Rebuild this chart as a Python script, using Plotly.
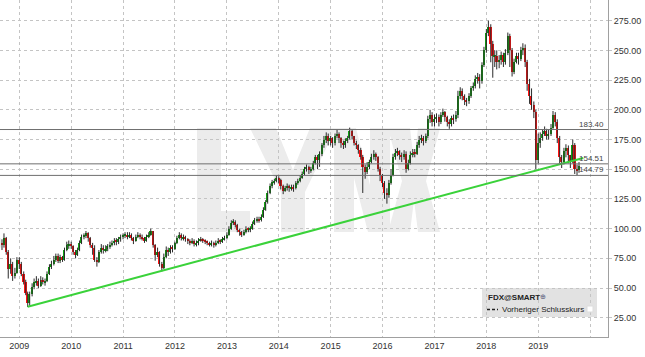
import plotly.graph_objects as go
import pandas as pd

# ---------------- data (semi-monthly candles) ----------------
first_open = 86
close_2008 = [88, 86, 92, 80, 66, 70, 60, 63, 74]
high_2008 = [92, 91, 96, 93, 82, 75, 72, 67, 76]
low_2008 = [84, 82, 84, 78, 58, 62, 56, 58, 62]

close_2009 = [70, 62, 55, 46, 37, 45, 51, 55, 56, 52, 57, 55, 56, 62, 68, 70, 74, 77, 73, 76, 74, 82, 86, 87]
high_2009 = [76, 72, 64, 57, 47, 47, 54, 58, 60, 58, 60, 59, 58, 64, 70, 73, 77, 79, 79, 78, 77, 84, 89, 90]
low_2009 = [66, 60, 53, 44, 34, 35, 43, 49, 52, 50, 51, 53, 52, 55, 61, 66, 69, 72, 71, 71, 72, 73, 81, 83]

close_2010 = [85, 80, 78, 82, 88, 93, 94, 96, 92, 86, 84, 74, 72, 80, 84, 82, 83, 85, 86, 88, 90, 89, 91, 93]
high_2010 = [89, 86, 82, 84, 90, 95, 96, 98, 97, 93, 88, 86, 76, 82, 87, 86, 86, 87, 89, 90, 92, 92, 93, 95]
low_2010 = [83, 78, 75, 77, 81, 87, 91, 92, 89, 84, 78, 72, 68, 71, 79, 79, 80, 81, 83, 85, 86, 86, 87, 89]

close_2011 = [94, 95, 93, 95, 92, 90, 93, 95, 93, 92, 90, 93, 95, 98, 86, 78, 80, 70, 67, 76, 82, 80, 84, 83]
high_2011 = [96, 97, 97, 97, 96, 93, 95, 97, 96, 95, 93, 95, 97, 100, 98, 87, 84, 81, 72, 79, 85, 84, 86, 86]
low_2011 = [91, 92, 91, 92, 90, 87, 89, 92, 91, 90, 88, 89, 92, 94, 84, 73, 76, 68, 64, 66, 75, 77, 79, 80]

close_2012 = [88, 92, 95, 92, 93, 91, 90, 88, 90, 87, 88, 90, 91, 90, 89, 88, 87, 88, 86, 88, 90, 89, 91, 92]
high_2012 = [89, 94, 97, 96, 95, 94, 92, 91, 92, 91, 90, 92, 93, 92, 91, 90, 89, 90, 89, 90, 92, 91, 93, 94]
low_2012 = [82, 87, 91, 90, 90, 89, 87, 86, 87, 85, 85, 86, 89, 88, 87, 86, 85, 85, 84, 85, 87, 87, 88, 90]

close_2013 = [95, 100, 105, 106, 103, 99, 97, 95, 97, 100, 99, 100, 104, 107, 108, 107, 110, 116, 122, 130, 136, 139, 140, 143]
high_2013 = [97, 102, 107, 108, 107, 104, 100, 98, 99, 102, 101, 102, 106, 109, 110, 110, 112, 118, 124, 132, 138, 141, 142, 145]
low_2013 = [91, 94, 99, 103, 101, 97, 94, 93, 94, 96, 97, 97, 99, 103, 105, 105, 106, 109, 115, 121, 129, 134, 137, 139]

close_2014 = [141, 136, 132, 134, 136, 134, 135, 134, 138, 140, 143, 146, 150, 152, 149, 150, 155, 160, 158, 163, 170, 175, 178, 174]
high_2014 = [144, 142, 137, 136, 138, 137, 137, 137, 140, 142, 145, 148, 152, 154, 153, 152, 157, 162, 162, 165, 172, 178, 181, 180]
low_2014 = [138, 133, 129, 131, 132, 131, 132, 131, 133, 137, 139, 142, 145, 148, 146, 147, 149, 154, 150, 152, 161, 168, 172, 170]

close_2015 = [176, 172, 178, 180, 176, 172, 170, 174, 176, 182, 178, 172, 170, 166, 160, 152, 148, 152, 156, 160, 163, 160, 150, 145]
high_2015 = [178, 177, 180, 183, 181, 177, 174, 176, 178, 185, 183, 178, 174, 171, 168, 162, 154, 156, 158, 163, 166, 164, 161, 152]
low_2015 = [170, 168, 170, 176, 172, 168, 167, 168, 172, 175, 175, 170, 167, 163, 158, 130, 142, 146, 150, 155, 158, 157, 148, 140]

close_2016 = [138, 130, 128, 138, 145, 160, 164, 165, 162, 160, 163, 150, 155, 162, 164, 163, 170, 175, 176, 174, 178, 192, 196, 190]
high_2016 = [146, 140, 134, 141, 150, 163, 167, 168, 166, 164, 166, 165, 158, 165, 167, 167, 173, 178, 179, 178, 180, 195, 200, 198]
low_2016 = [135, 125, 121, 126, 137, 144, 158, 161, 158, 156, 158, 147, 149, 154, 160, 160, 162, 168, 172, 170, 172, 176, 189, 186]

close_2017 = [192, 194, 190, 196, 198, 194, 190, 188, 193, 192, 196, 212, 216, 212, 208, 207, 212, 218, 220, 226, 228, 224, 238, 250]
high_2017 = [196, 197, 196, 198, 201, 199, 195, 192, 195, 196, 199, 216, 219, 218, 213, 210, 214, 220, 223, 229, 231, 230, 240, 253]
low_2017 = [186, 189, 186, 188, 194, 190, 186, 184, 186, 188, 190, 193, 209, 208, 204, 203, 205, 210, 216, 218, 222, 218, 222, 236]

close_2018 = [265, 270, 255, 245, 245, 240, 242, 246, 240, 248, 262, 250, 232, 240, 245, 243, 250, 252, 240, 222, 212, 204, 198, 158]
high_2018 = [268, 275, 272, 258, 250, 250, 246, 249, 248, 251, 265, 264, 252, 243, 248, 248, 253, 256, 255, 242, 226, 218, 207, 200]
low_2018 = [248, 262, 240, 227, 236, 234, 235, 238, 236, 238, 246, 236, 228, 230, 239, 238, 241, 246, 236, 216, 205, 200, 193, 150]

close_2019 = [172, 176, 180, 182, 178, 180, 185, 196, 190, 176, 160, 156, 165, 168, 162, 156, 170, 150, 149, 153]
high_2019 = [180, 181, 183, 186, 184, 183, 188, 199, 198, 192, 178, 162, 168, 171, 170, 160, 175, 172, 154, 156]
low_2019 = [155, 168, 174, 178, 175, 175, 178, 184, 186, 172, 155, 151, 154, 160, 155, 151, 155, 146, 145, 147]

levels = [183.40, 154.51, 144.79]
level_labels = ["183.40", "154.51", "144.79"]
trend_dates = ["2009-03-01", "2019-11-14"]
trend_values = [34.3, 159.5]
year_ticks = [f"{y}-01-01" for y in range(2009, 2021)]
year_labels = [str(y) for y in range(2009, 2020)] + [""]
price_ticks = [25, 50, 75, 100, 125, 150, 175, 200, 225, 250, 275]

closes = (close_2008 + close_2009 + close_2010 + close_2011 + close_2012 + close_2013
          + close_2014 + close_2015 + close_2016 + close_2017 + close_2018 + close_2019)
highs = (high_2008 + high_2009 + high_2010 + high_2011 + high_2012 + high_2013
         + high_2014 + high_2015 + high_2016 + high_2017 + high_2018 + high_2019)
lows = (low_2008 + low_2009 + low_2010 + low_2011 + low_2012 + low_2013
        + low_2014 + low_2015 + low_2016 + low_2017 + low_2018 + low_2019)
opens = [first_open] + closes[:-1]
dates = pd.date_range("2008-08-15", periods=len(closes), freq="SMS")
highs = [max(h, o, c) for h, o, c in zip(highs, opens, closes)]
lows = [min(l, o, c) for l, o, c in zip(lows, opens, closes)]

# ---------------- geometry helpers (pixel -> paper) ----------------
PW, PH = 608.0, 337.0
def px(x):
    return x / PW
def py(y):
    return 1 - y / PH

fig = go.Figure()

# wicks
wx, wy = [], []
for d, h, l in zip(dates, highs, lows):
    wx += [d, d, None]
    wy += [l, h, None]
fig.add_trace(go.Scatter(x=wx, y=wy, mode="lines", line=dict(color="#2a2a2a", width=1),
                         hoverinfo="skip", showlegend=False))
# bodies
body_h = [max(abs(c - o), 0.7) for o, c in zip(opens, closes)]
body_b = [min(o, c) for o, c in zip(opens, closes)]
body_c = ["#12a012" if c >= o else "#ff1010" for o, c in zip(opens, closes)]
fig.add_trace(go.Bar(x=dates, y=body_h, base=body_b, marker=dict(color=body_c, line=dict(width=0)),
                     width=11 * 86400000, showlegend=False, hoverinfo="skip"))

# trend line
fig.add_trace(go.Scatter(x=trend_dates, y=trend_values, mode="lines",
                         line=dict(color="#3ad23a", width=2), showlegend=False, hoverinfo="skip"))

shapes = []
annotations = []
# horizontal levels
for v, t in zip(levels, level_labels):
    shapes.append(dict(type="line", xref="paper", yref="y", x0=0, x1=1, y0=v, y1=v,
                       line=dict(color="#6e6e6e", width=1), layer="above"))
    annotations.append(dict(xref="paper", yref="y", x=px(606), y=v, text=t, showarrow=False,
                            xanchor="right", yanchor="bottom", yshift=-1,
                            font=dict(family="Liberation Sans, Arial", size=8, color="#444")))

# LYNX watermark drawn as letter outlines
wm = "#ececec"
def poly(points):
    s = "M " + " L ".join(f"{px(x):.5f},{py(y):.5f}" for x, y in points) + " Z"
    return dict(type="path", xref="paper", yref="paper", path=s, fillcolor=wm,
                line=dict(width=0), layer="below")
T, B = 128, 232
shapes.append(poly([(197, T), (221, T), (221, 211), (250, 211), (250, B), (197, B)]))
shapes.append(poly([(250, T), (276, T), (293, 170), (310, T), (336, T), (305, 192), (305, B), (281, B), (281, 192)]))
shapes.append(poly([(334, B), (334, T), (356, T), (370, 185), (370, T), (390, T), (390, B), (368, B), (354, 178), (354, B)]))
shapes.append(poly([(388, T), (410, T), (414, 162), (418, T), (440, T), (426, 181), (440, B), (418, B), (414, 200), (410, B), (388, B), (402, 181)]))

# legend box
shapes.append(dict(type="rect", xref="paper", yref="paper", x0=px(482), x1=px(597), y0=py(317), y1=py(288),
                   fillcolor="#e2e2e2", line=dict(width=0), layer="below"))
shapes.append(dict(type="line", xref="paper", yref="paper", x0=px(487), x1=px(498), y0=py(309.5), y1=py(309.5),
                   line=dict(color="#222", width=1.3, dash="3px,2px"), layer="above"))
shapes.append(dict(type="rect", xref="paper", yref="paper", x0=px(587), x1=px(593), y0=py(312), y1=py(306),
                   fillcolor="#ffffff", line=dict(color="#dddddd", width=1), layer="above"))
annotations.append(dict(xref="paper", yref="paper", x=px(486), y=py(297), text="<b>FDX@SMART</b>",
                        showarrow=False, xanchor="left", yanchor="middle",
                        font=dict(family="Liberation Sans, Arial", size=8, color="#222")))
annotations.append(dict(xref="paper", yref="paper", x=px(538), y=py(297), text="⊕",
                        showarrow=False, xanchor="left", yanchor="middle",
                        font=dict(family="DejaVu Sans", size=7, color="#557")))
annotations.append(dict(xref="paper", yref="paper", x=px(500), y=py(309.5), text="Vorheriger Schlusskurs",
                        showarrow=False, xanchor="left", yanchor="middle",
                        font=dict(family="Liberation Sans, Arial", size=8, color="#222")))

fig.update_layout(
    width=645, height=357,
    margin=dict(l=0, r=37, t=0, b=20, pad=0),
    paper_bgcolor="white", plot_bgcolor="white",
    showlegend=False, bargap=0,
    shapes=shapes, annotations=annotations,
    font=dict(family="Liberation Sans, Arial", size=9, color="#333"),
)
fig.update_xaxes(
    type="date", range=["2008-08-18", "2020-05-06"],
    tickvals=year_ticks, ticktext=year_labels,
    showgrid=True, gridcolor="#c4c4c4", griddash="dot", gridwidth=1,
    showline=True, linecolor="#a0a0a0", mirror=True, linewidth=1,
    ticks="", tickfont=dict(size=9, color="#333"), zeroline=False,
)
fig.update_yaxes(
    range=[8.8, 292.4], side="right",
    tickvals=price_ticks, tickformat=".2f",
    showgrid=True, gridcolor="#c4c4c4", griddash="dot", gridwidth=1,
    showline=True, linecolor="#a0a0a0", mirror=True, linewidth=1,
    ticks="outside", ticklen=3, tickcolor="#c4c4c4",
    tickfont=dict(size=9, color="#333"), zeroline=False,
)

fig.write_html("out.html", config={"displayModeBar": False},
               post_script="document.body.style.margin='0';document.body.style.overflow='hidden';")
